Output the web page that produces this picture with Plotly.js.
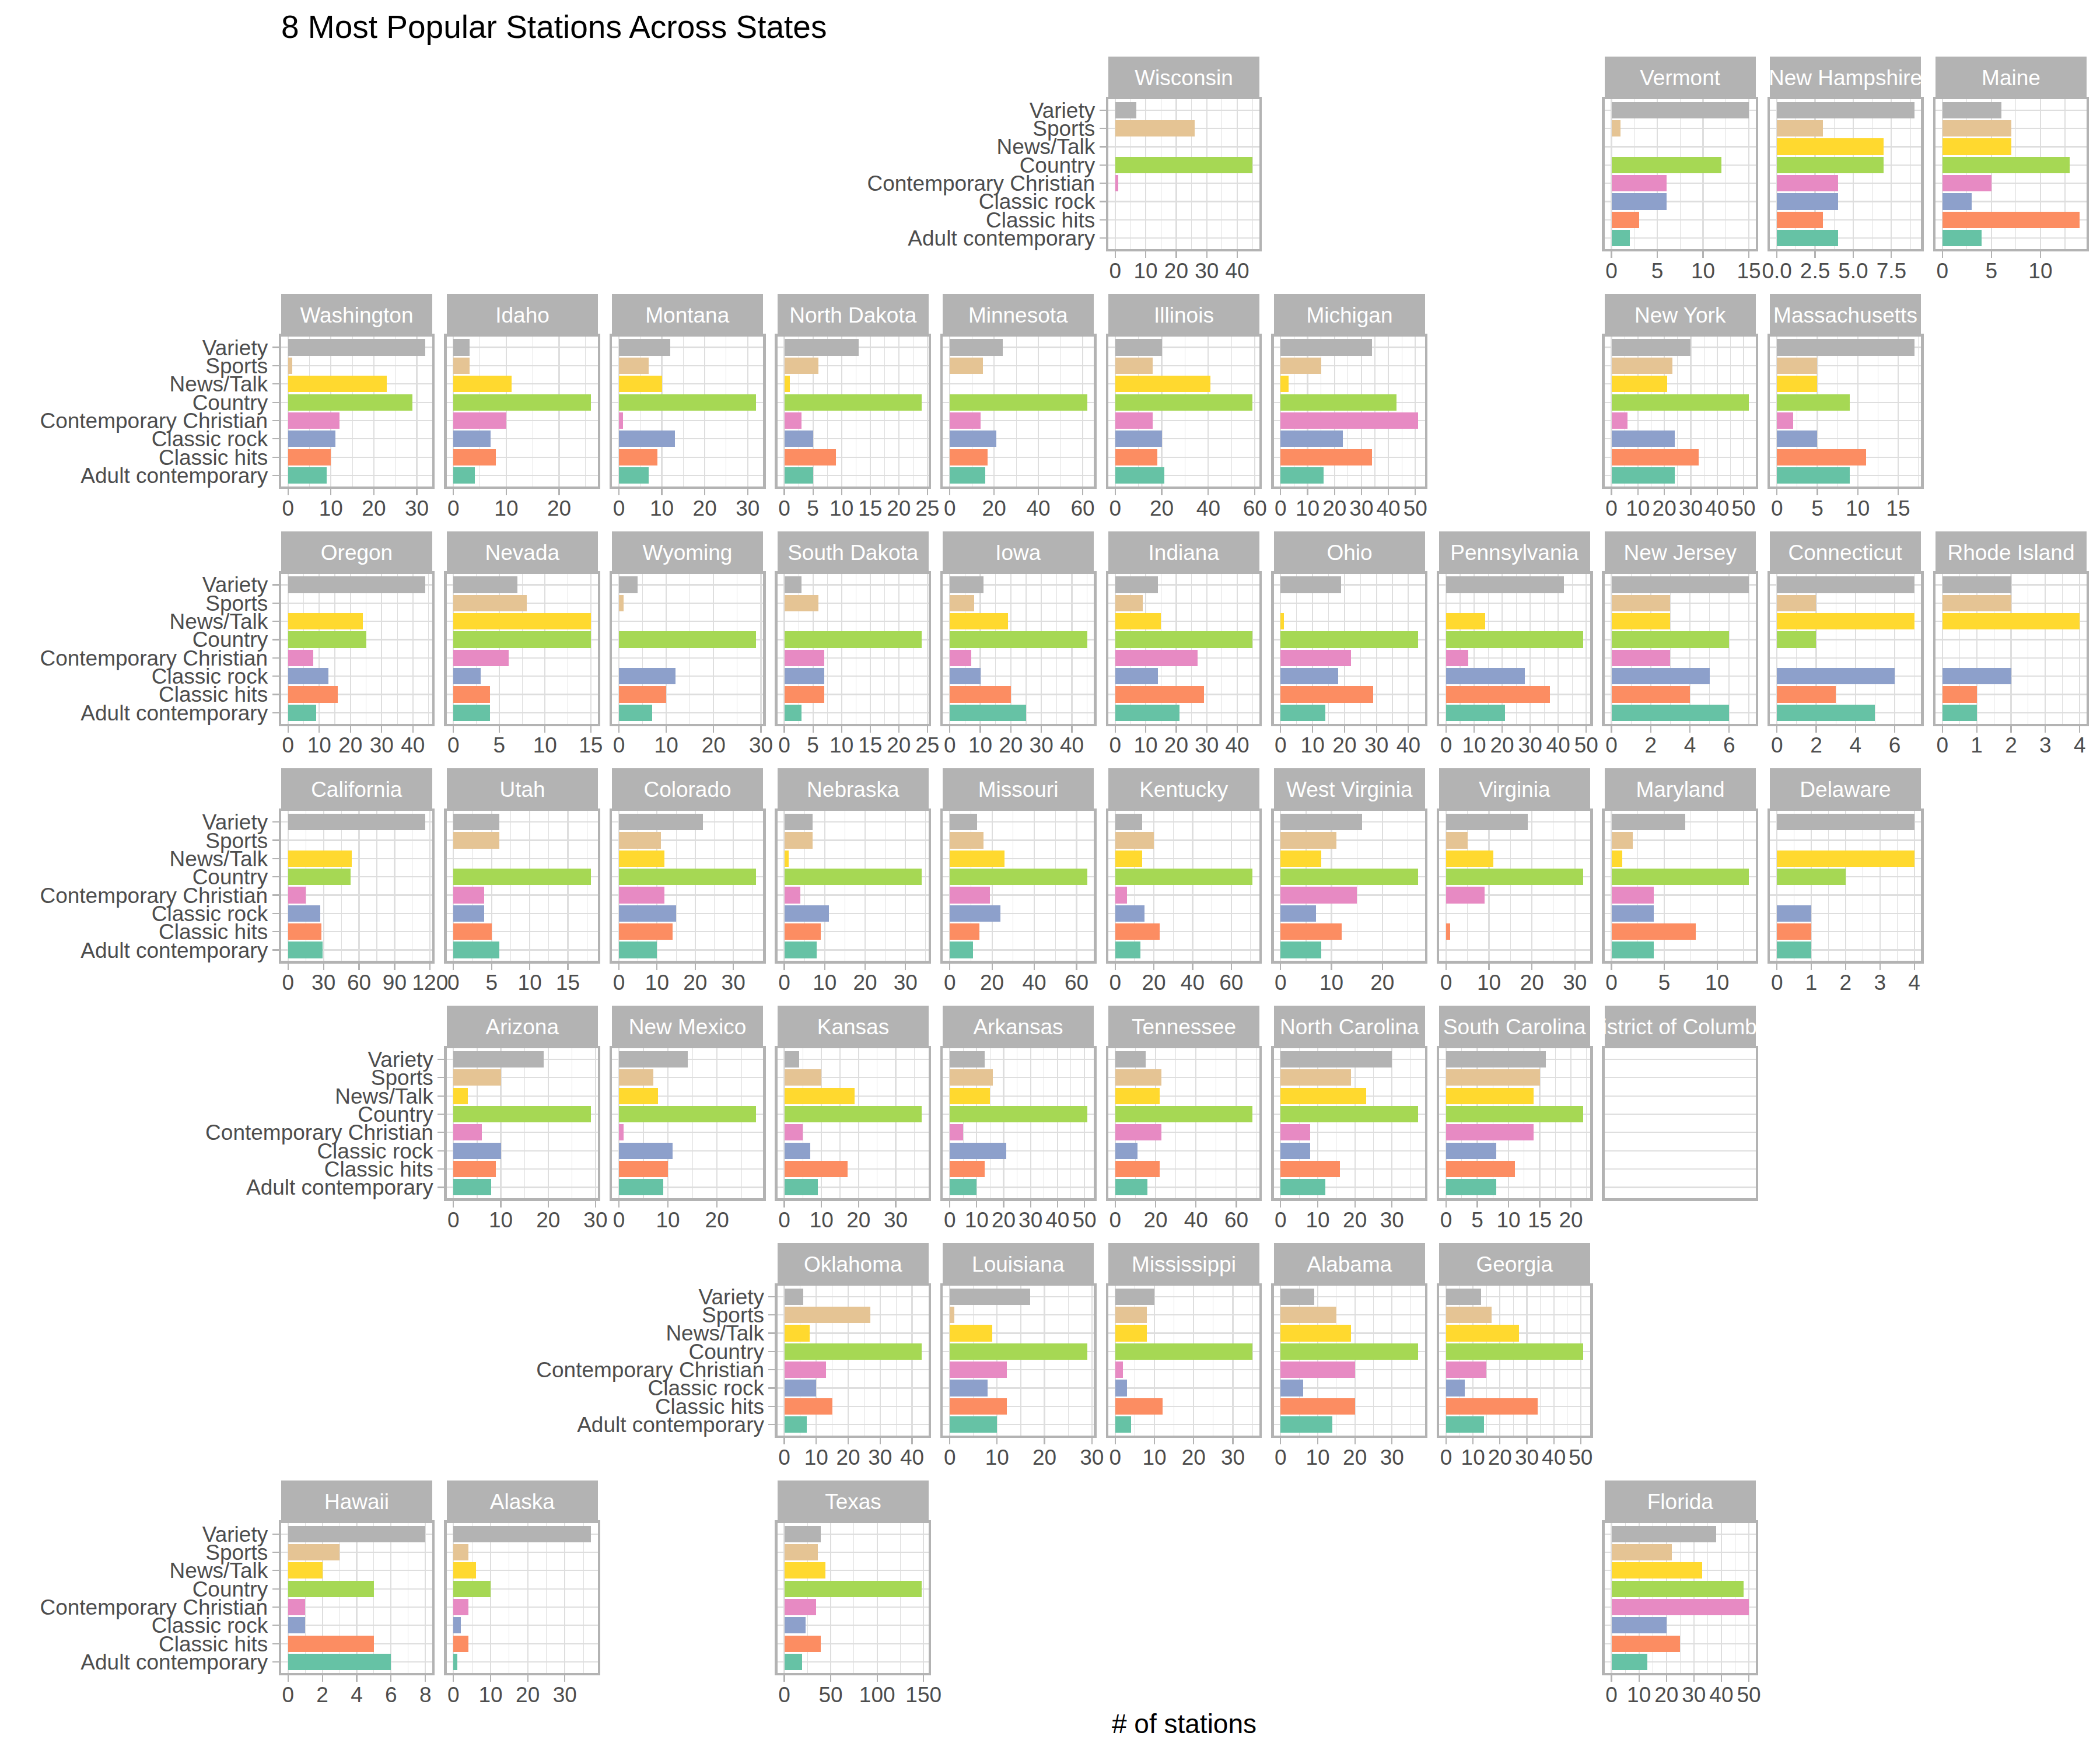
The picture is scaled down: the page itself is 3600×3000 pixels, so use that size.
<!DOCTYPE html>
<html>
<head>
<meta charset="utf-8">
<script src="https://cdn.plot.ly/plotly-3.0.1.min.js"></script>
<style>html,body{margin:0;padding:0;background:#fff}#chart{width:3600px;height:3000px}</style>
</head>
<body>
<div id="chart"></div>
<script>
// ---------------- DATA ----------------
const categories = ["Adult contemporary","Classic hits","Classic rock","Contemporary Christian","Country","News/Talk","Sports","Variety"];

const states = [
  "Wisconsin","Vermont","New Hampshire","Maine",
  "Washington","Idaho","Montana","North Dakota","Minnesota","Illinois","Michigan","New York","Massachusetts",
  "Oregon","Nevada","Wyoming","South Dakota","Iowa","Indiana","Ohio","Pennsylvania","New Jersey","Connecticut","Rhode Island",
  "California","Utah","Colorado","Nebraska","Missouri","Kentucky","West Virginia","Virginia","Maryland","Delaware",
  "Arizona","New Mexico","Kansas","Arkansas","Tennessee","North Carolina","South Carolina","District of Columbia",
  "Oklahoma","Louisiana","Mississippi","Alabama","Georgia",
  "Hawaii","Alaska","Texas","Florida"
];

// station counts per format, in the order of `states` (null = no data)
const adultContemporary = [0,2,4,4, 9,4,7,5,16,21,16,24,9, 9,4,7,3,25,21,14,21,6,5,1, 29,6,10,8,11,13,8,0,4,1, 8,9,9,10,16,12,8,null, 7,10,4,14,14, 6,1,19,13];
const classicHits       = [0,3,3,14, 10,8,9,9,17,18,34,33,11, 16,4,10,7,20,29,29,37,4,3,1, 28,5,14,9,14,23,12,1,8,1, 9,10,17,13,22,16,11,null, 15,12,12,20,34, 5,4,39,25];
const classicRock       = [0,6,4,3, 11,7,13,5,21,20,23,24,5, 13,3,12,7,10,14,18,28,5,6,2, 27,4,15,11,24,15,7,0,4,1, 10,11,7,21,11,8,8,null, 10,8,3,6,7, 1,2,23,20];
const contempChristian  = [1,6,4,5, 12,10,1,3,14,16,51,6,2, 8,6,0,7,7,27,22,8,3,0,0, 15,4,12,4,19,6,15,9,4,0, 6,1,5,5,23,8,14,null, 13,12,2,20,15, 1,4,34,50];
const country           = [45,12,7,13, 29,26,32,24,62,59,43,52,9, 25,15,29,24,45,45,43,49,6,2,0, 53,18,36,34,65,71,27,32,13,2, 29,28,37,51,68,37,22,null, 43,29,35,37,51, 5,10,148,48];
const newsTalk          = [0,0,7,7, 23,11,10,1,0,41,3,21,5, 24,15,0,0,19,15,1,14,3,7,4, 54,0,12,1,26,14,8,11,1,4, 3,8,19,15,22,23,14,null, 8,9,8,19,27, 2,6,44,33];
const sports            = [26,1,3,7, 1,3,7,6,15,16,15,23,5, 0,8,1,6,8,9,0,0,3,2,2, 0,6,11,7,16,20,11,5,2,0, 10,7,10,16,23,19,15,null, 27,1,8,15,17, 3,4,36,22];
const variety           = [7,15,9,6, 32,3,12,13,24,20,34,30,17, 44,7,4,3,11,14,19,42,7,7,2, 116,6,22,7,13,14,16,19,7,4, 19,14,4,13,15,30,16,null, 6,17,10,9,13, 8,37,39,38];

// x-axis tick step of each panel (tick labels 0, step, 2*step, ...)
const tickStep = [10,5,2.5,5, 10,10,10,5,20,20,10,10,5, 10,5,10,5,10,10,10,10,2,2,1, 30,5,10,10,20,20,10,10,5,1, 10,10,10,10,20,10,5,null, 10,10,10,10,10, 2,10,50,10];

// geofacet grid position (row, column) of each state
const gridPos = [
  [1,6],[1,9],[1,10],[1,11],
  [2,1],[2,2],[2,3],[2,4],[2,5],[2,6],[2,7],[2,9],[2,10],
  [3,1],[3,2],[3,3],[3,4],[3,5],[3,6],[3,7],[3,8],[3,9],[3,10],[3,11],
  [4,1],[4,2],[4,3],[4,4],[4,5],[4,6],[4,7],[4,8],[4,9],[4,10],
  [5,2],[5,3],[5,4],[5,5],[5,6],[5,7],[5,8],[5,9],
  [6,4],[6,5],[6,6],[6,7],[6,8],
  [7,1],[7,2],[7,4],[7,9]
];

const chartTitle = "8 Most Popular Stations Across States";
const xTitle = "# of stations";

// ---------------- STYLE ----------------
const W = 3600, H = 3000;
const FONT = "Liberation Sans, Arial, Helvetica, sans-serif";
const catColors = ["#66C2A5","#FC8D62","#8DA0CB","#E78AC3","#A6D854","#FFD92F","#E5C494","#B3B3B3"];
const GRID = "#DEDEDE", BORDER = "#B3B3B3", TICKTXT = "#4D4D4D";
const G = {left0: 482, pitchX: 283.6, w: 259, top0: 97, pitchY: 406.8, strip: 73, h: 257};

const series = [adultContemporary, classicHits, classicRock, contempChristian, country, newsTalk, sports, variety];

const data = [];
const layout = {
  width: W, height: H, autosize: false,
  margin: {l: 0, r: 0, t: 0, b: 0},
  paper_bgcolor: "#ffffff", plot_bgcolor: "#ffffff",
  showlegend: false,
  font: {family: FONT, color: TICKTXT},
  title: {text: chartTitle, x: 482 / W, xanchor: "left", xref: "paper", y: 1 - 46 / H, yanchor: "middle", yref: "container",
          font: {family: FONT, size: 55, color: "#000000"}},
  annotations: [],
  bargap: 0
};

// first panel in each row gets y labels
const firstInRow = {};
gridPos.forEach((p, i) => { if (!(p[0] in firstInRow) || gridPos[firstInRow[p[0]]][1] > p[1]) firstInRow[p[0]] = i; });

states.forEach((st, i) => {
  const k = i + 1;
  const xa = "xaxis" + (k === 1 ? "" : k), ya = "yaxis" + (k === 1 ? "" : k);
  const xr = "x" + (k === 1 ? "" : k), yr = "y" + (k === 1 ? "" : k);
  const [row, col] = gridPos[i];
  const x0 = G.left0 + (col - 1) * G.pitchX, x1 = x0 + G.w;
  const sTop = G.top0 + (row - 1) * G.pitchY;
  const pTop = sTop + G.strip, pBot = pTop + G.h;
  const vals = series.map(s => s[i]);
  const hasData = vals.some(v => v !== null);
  const M = hasData ? Math.max(...vals.map(v => v || 0)) : 1;
  const step = tickStep[i];

  data.push({
    type: "bar", orientation: "h",
    x: vals, y: categories,
    xaxis: xr, yaxis: yr,
    width: 0.9,
    marker: {color: catColors, line: {width: 0}},
    hovertemplate: st + "<br>%{y}: %{x}<extra></extra>",
    showlegend: false
  });

  const xaxis = {
    domain: [x0 / W, x1 / W], anchor: yr,
    range: [-0.05 * M, 1.05 * M],
    zeroline: false,
    showline: true, mirror: true, linecolor: BORDER, linewidth: 4.4,
    tickfont: {family: FONT, size: 37, color: TICKTXT},
    fixedrange: true
  };
  if (hasData) {
    Object.assign(xaxis, {
      tickmode: "linear", tick0: 0, dtick: step,
      tickformat: (step % 1 !== 0) ? ".1f" : "d",
      showgrid: true, gridcolor: GRID, gridwidth: 2.2,
      minor: {tick0: 0, dtick: step / 2, showgrid: true, gridcolor: GRID, gridwidth: 1.1, ticks: ""},
      ticks: "outside", ticklen: 11, tickwidth: 2.2, tickcolor: BORDER,
      ticklabelstandoff: -10,
      showticklabels: true
    });
  } else {
    Object.assign(xaxis, {showgrid: false, ticks: "", showticklabels: false});
  }
  layout[xa] = xaxis;

  const isFirst = firstInRow[row] === i;
  layout[ya] = {
    domain: [1 - pBot / H, 1 - pTop / H], anchor: xr,
    type: "category", categoryorder: "array", categoryarray: categories,
    tickmode: "array", tickvals: categories, ticktext: categories,
    range: [-0.6, categories.length - 0.4],
    showgrid: true, gridcolor: GRID, gridwidth: 2.2,
    zeroline: false,
    showline: true, mirror: true, linecolor: BORDER, linewidth: 4.4,
    ticks: isFirst ? "outside" : "", ticklen: 11, tickwidth: 2.2, tickcolor: BORDER,
    showticklabels: isFirst,
    tickfont: {family: FONT, size: 37, color: TICKTXT},
    fixedrange: true
  };

  // strip
  layout.annotations.push({
    xref: "paper", yref: "paper",
    x: (x0 + x1) / 2 / W, y: 1 - (sTop + G.strip / 2) / H,
    xanchor: "center", yanchor: "middle",
    width: G.w, height: G.strip,
    bgcolor: BORDER, borderpad: 0, borderwidth: 0,
    showarrow: false, align: "center", valign: "middle",
    text: st,
    font: {family: FONT, size: 37, color: "#FFFFFF"}
  });
});

// x axis title
layout.annotations.push({
  xref: "paper", yref: "paper",
  x: ((G.left0 + G.left0 + 10 * G.pitchX + G.w) / 2) / W, y: 1 - 2955 / H,
  xanchor: "center", yanchor: "middle", showarrow: false,
  text: xTitle, font: {family: FONT, size: 46, color: "#000000"}
});

Plotly.newPlot("chart", data, layout, {displayModeBar: false, staticPlot: true});
</script>
</body>
</html>
